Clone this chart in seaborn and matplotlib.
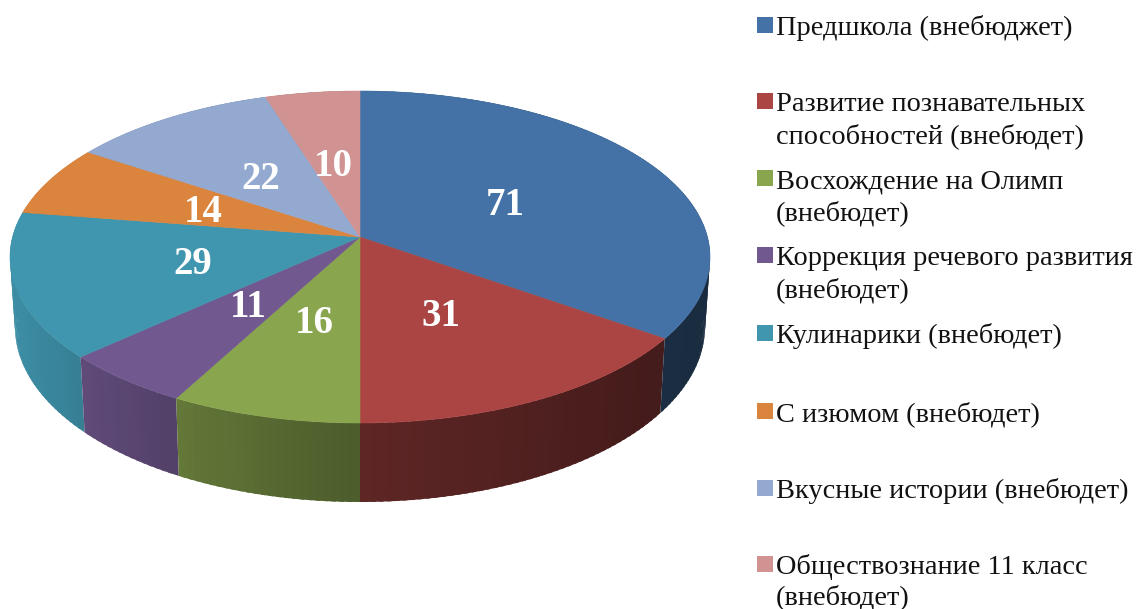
import numpy as np
import matplotlib
matplotlib.use("Agg")
import matplotlib.pyplot as plt
import seaborn as sns

categories = [
    "Предшкола (внебюджет)",
    "Развитие познавательных\nспособностей (внебюдет)",
    "Восхождение на Олимп\n(внебюдет)",
    "Коррекция речевого развития\n(внебюдет)",
    "Кулинарики (внебюдет)",
    "С изюмом (внебюдет)",
    "Вкусные истории (внебюдет)",
    "Обществознание 11 класс\n(внебюдет)",
]
values = [71, 31, 16, 11, 29, 14, 22, 10]
hex_colors = ["#4472a6", "#aa4543", "#89a54e", "#71588f",
              "#4096ae", "#db843d", "#93a9cf", "#d19392"]

sns.set_theme(style="white")
plt.rcParams["font.family"] = ["Liberation Serif", "DejaVu Serif"]
palette = sns.color_palette(hex_colors)

fig, ax = plt.subplots(figsize=(11.37, 6.09), dpi=100)
ax.set_position([0, 0, 1, 1])
ax.set_xlim(0, 1137)
ax.set_ylim(609, 0)
ax.axis("off")

# camera model: disc seen in perspective
CX = 360
TOP_CY, TOP_RX, TOP_RY = 257, 350, 166
BOT_CY, BOT_RX, BOT_RY = 327, 345, 175
TILT = 0.12


def project(r, theta):
    u, v = r * np.sin(theta), r * np.cos(theta)
    d = 1 + TILT * v
    return u * np.sqrt(1 - TILT ** 2) / d, (v + TILT) / d


def top_xy(r, theta):
    u, v = project(r, theta)
    return CX + TOP_RX * u, TOP_CY - TOP_RY * v


def bottom_xy(theta):
    u, v = project(1.0, theta)
    return CX + BOT_RX * u, BOT_CY - BOT_RY * v


fracs = np.array(values, dtype=float) / np.sum(values)
edges = np.concatenate([[0], np.cumsum(fracs)]) * 2 * np.pi

# outer wall, back to front; each slice overlaps the next so no seams appear
quads = []
for i, col in enumerate(palette):
    n = max(int((edges[i + 1] - edges[i]) / 0.02), 2)
    th = np.linspace(edges[i], edges[i + 1], n + 1)
    for a, b in zip(th[:-1], th[1:]):
        b2 = min(b + 0.012, edges[i + 1])
        xa, ya = top_xy(1.0, a)
        xb, yb = top_xy(1.0, b2)
        xc, yc = bottom_xy(b2)
        xd, yd = bottom_xy(a)
        u = project(1.0, (a + b) / 2)[0]
        shade = np.interp(u, [-1, -0.8, -0.5, 0, 0.8, 1],
                          [0.95, 0.85, 0.72, 0.56, 0.41, 0.38])
        face = tuple(np.array(col) * shade)
        quads.append((i, a, [xa, xb, xc, xd], [ya, yb, yc, yd], face))
order = 0
for i, a, xs, ys, face in reversed(quads):
    order += 1
    ax.fill(xs, ys, color=face, lw=0, zorder=1 + order * 1e-4)

# top surface
for i, col in enumerate(palette):
    th = np.linspace(edges[i], edges[i + 1], 200)
    x, y = top_xy(1.0, th)
    x0, y0 = top_xy(0.0, 0.0)
    ax.fill(np.r_[x0, x], np.r_[y0, y], color=col, lw=0.4, zorder=2)

# value labels at half radius
for i, v in enumerate(values):
    x, y = top_xy(0.49, (edges[i] + edges[i + 1]) / 2)
    ax.text(x - 1.5, y + 4, str(v), color="white", fontsize=28, fontweight="bold",
            ha="center", va="center", zorder=3)

# legend
row_baselines = [35, 111, 188, 265, 343, 421, 498, 574]
line_gap = 32
for i, (name, col, base) in enumerate(zip(categories, palette, row_baselines)):
    ax.scatter([765], [base - 10], marker="s", s=125, color=[col], linewidths=0, zorder=3)
    for j, line in enumerate(name.split("\n")):
        ax.text(776, base + j * line_gap - (2 if i == 7 and j else 0), line, fontsize=20.4,
                color="#111111", ha="left", va="baseline", zorder=3)

fig.savefig("out.png", dpi=100)
